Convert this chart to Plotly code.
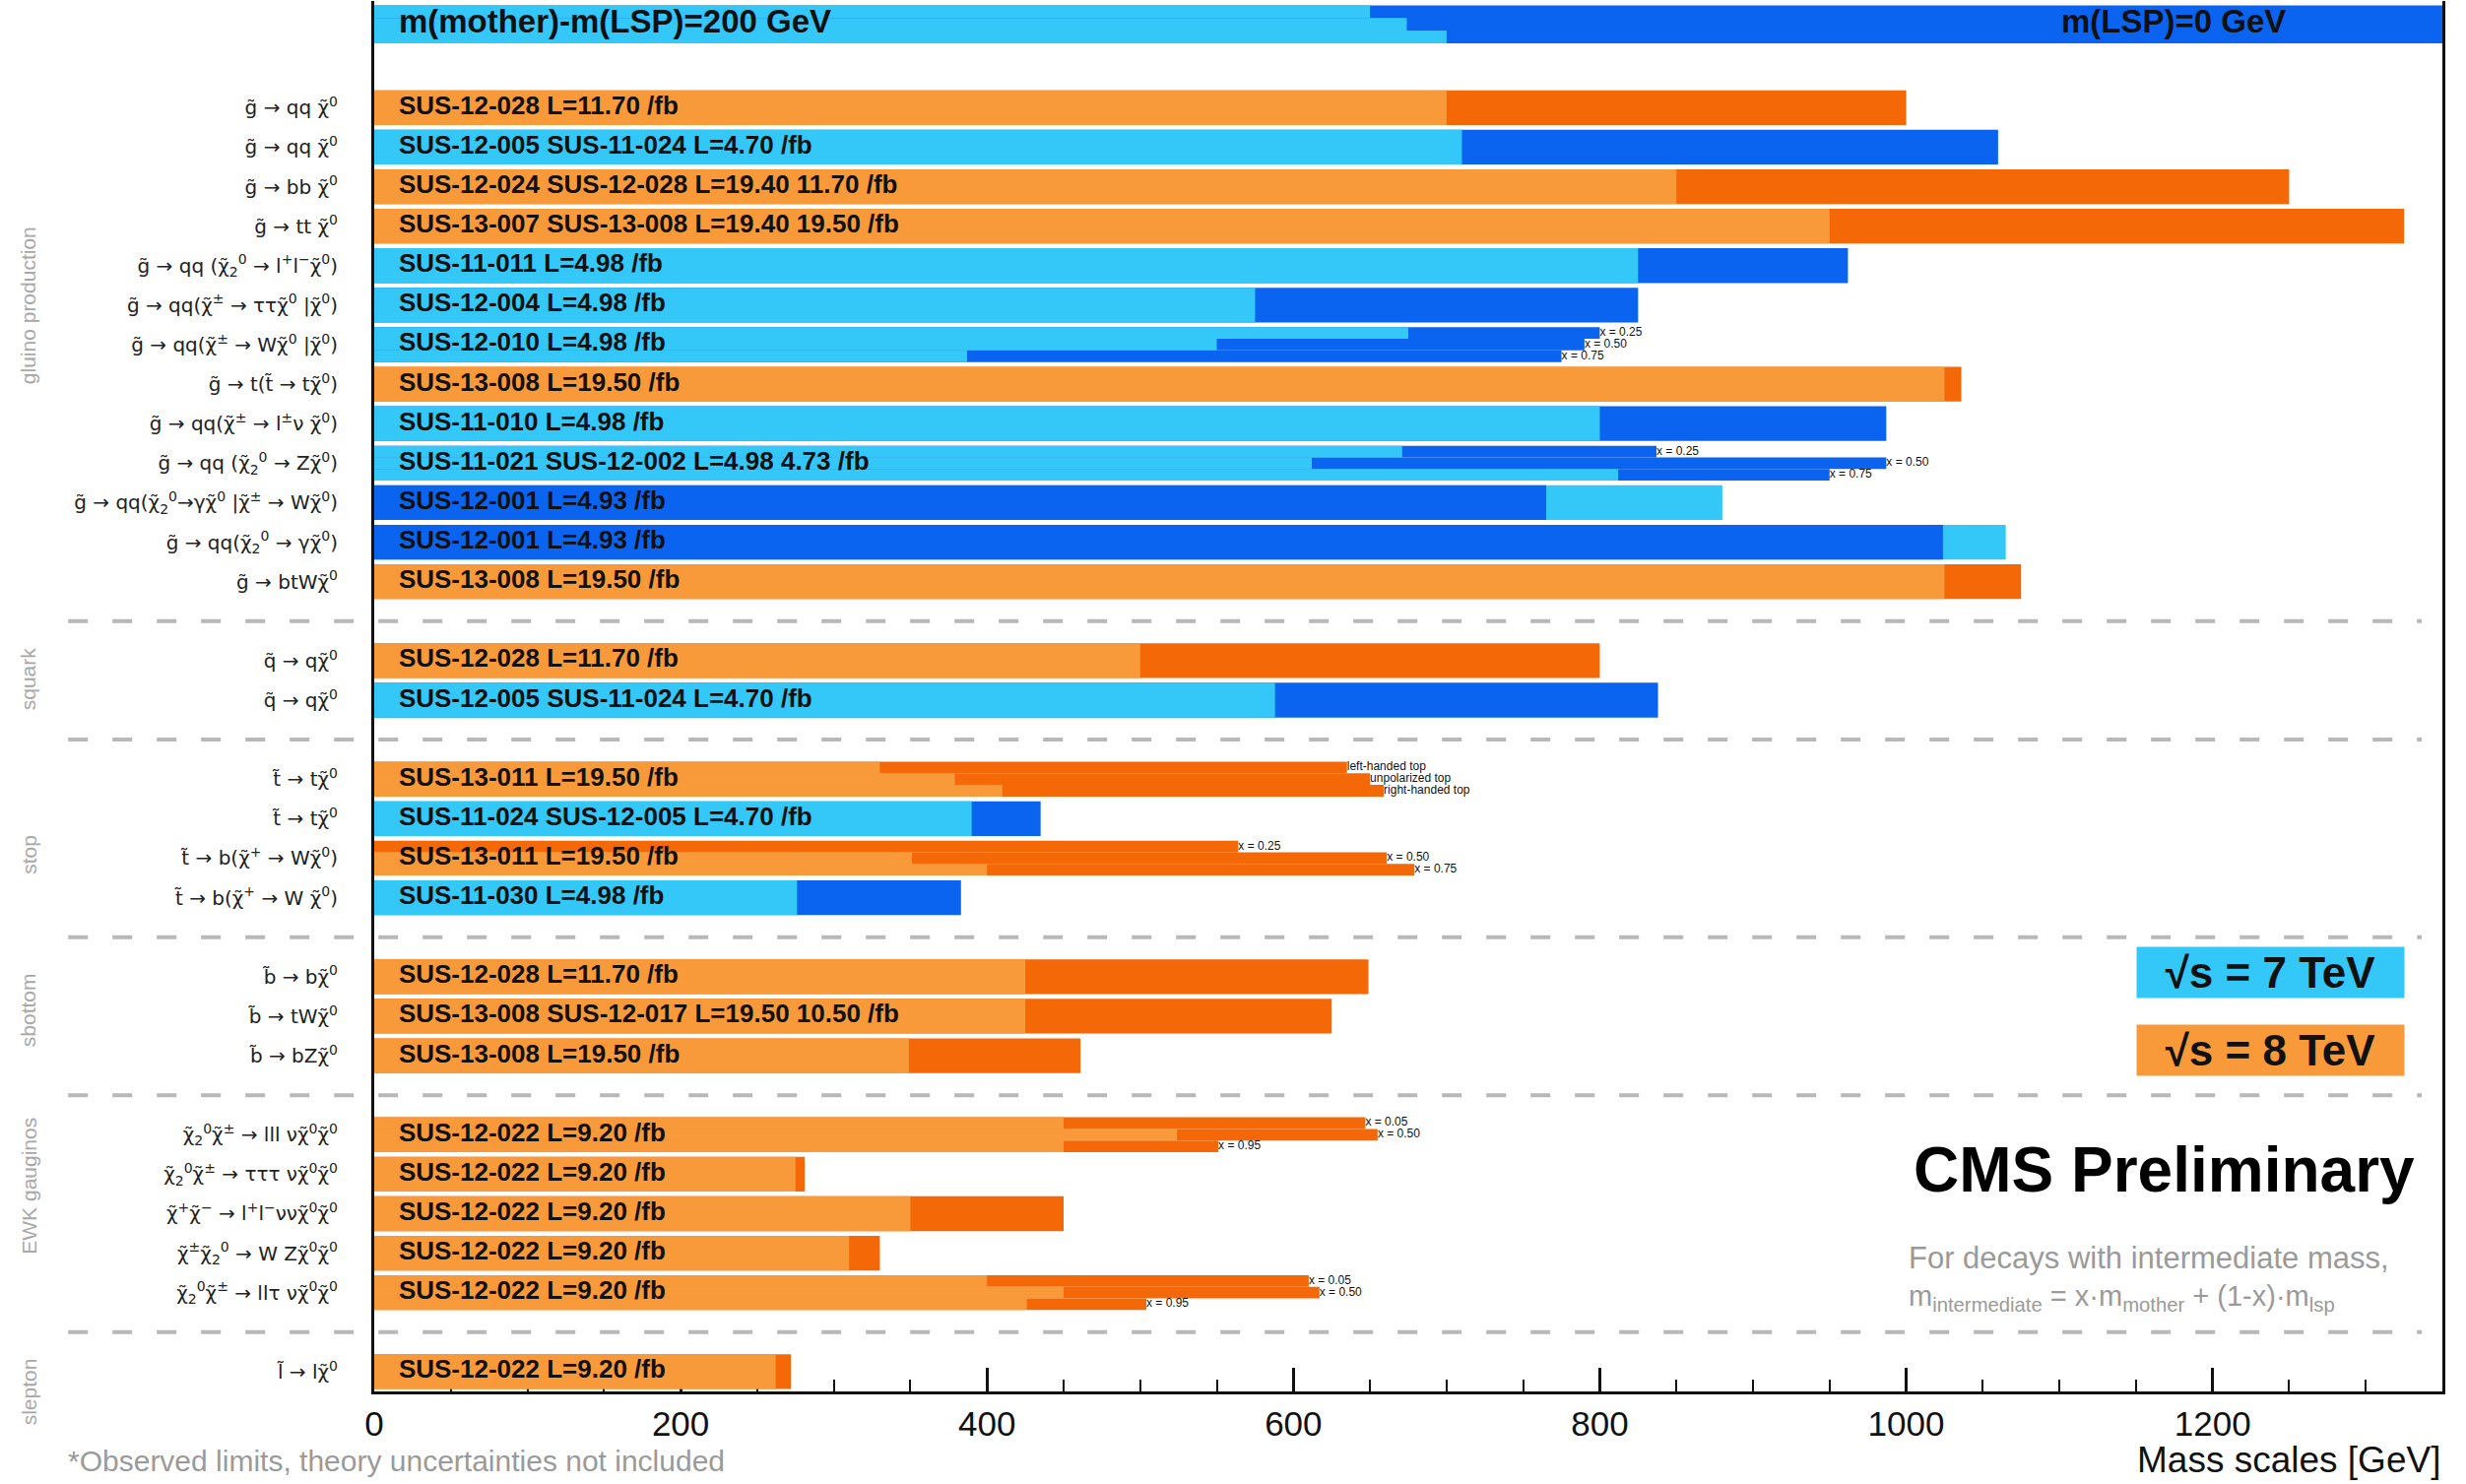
import plotly.graph_objects as go

FONT = "Liberation Sans, Arial, Helvetica, sans-serif"
LFONT = "DejaVu Sans, Liberation Sans, sans-serif"

# ---------------- data ----------------
G = "g\u0303"; CHI = "\u03c7\u0303"
SQ = "q\u0303"; ST = "t\u0303"; SB = "b\u0303"; SL = "l\u0303"
Z0 = f"{CHI}<sup>0</sup>"
ZPM = f"{CHI}<sup>±</sup>"
Z20 = f"{CHI}<sub>2</sub><sup>0</sup>"

row_pos = [0, 1, 2, 3, 4, 5, 6, 7, 8, 9, 10, 11, 12,
           14, 15,
           17, 18, 19, 20,
           22, 23, 24,
           26, 27, 28, 29, 30,
           32]

process_labels = [
    f"{G} → qq {Z0}",
    f"{G} → qq {Z0}",
    f"{G} → bb {Z0}",
    f"{G} → tt {Z0}",
    f"{G} → qq ({Z20} → l<sup>+</sup>l<sup>−</sup>{Z0})",
    f"{G} → qq({ZPM} → ττ{Z0} |{Z0})",
    f"{G} → qq({ZPM} → W{Z0} |{Z0})",
    f"{G} → t({ST} → t{Z0})",
    f"{G} → qq({ZPM} → l<sup>±</sup>ν {Z0})",
    f"{G} → qq ({Z20} → Z{Z0})",
    f"{G} → qq({Z20}→γ{Z0} |{ZPM} → W{Z0})",
    f"{G} → qq({Z20} → γ{Z0})",
    f"{G} → btW{Z0}",
    f"{SQ} → q{Z0}",
    f"{SQ} → q{Z0}",
    f"{ST} → t{Z0}",
    f"{ST} → t{Z0}",
    f"{ST} → b({CHI}<sup>+</sup> → W{Z0})",
    f"{ST} → b({CHI}<sup>+</sup> → W {Z0})",
    f"{SB} → b{Z0}",
    f"{SB} → tW{Z0}",
    f"{SB} → bZ{Z0}",
    f"{Z20}{ZPM} → lll ν{Z0}{Z0}",
    f"{Z20}{ZPM} → τττ ν{Z0}{Z0}",
    f"{CHI}<sup>+</sup>{CHI}<sup>−</sup> → l<sup>+</sup>l<sup>−</sup>νν{Z0}{Z0}",
    f"{ZPM}{Z20} → W Z{Z0}{Z0}",
    f"{Z20}{ZPM} → llτ ν{Z0}{Z0}",
    f"{SL} → l{Z0}",
]

analysis_labels = [
    "SUS-12-028 L=11.70 /fb",
    "SUS-12-005 SUS-11-024 L=4.70 /fb",
    "SUS-12-024 SUS-12-028 L=19.40 11.70 /fb",
    "SUS-13-007 SUS-13-008 L=19.40 19.50 /fb",
    "SUS-11-011 L=4.98 /fb",
    "SUS-12-004 L=4.98 /fb",
    "SUS-12-010 L=4.98 /fb",
    "SUS-13-008 L=19.50 /fb",
    "SUS-11-010 L=4.98 /fb",
    "SUS-11-021 SUS-12-002 L=4.98 4.73 /fb",
    "SUS-12-001 L=4.93 /fb",
    "SUS-12-001 L=4.93 /fb",
    "SUS-13-008 L=19.50 /fb",
    "SUS-12-028 L=11.70 /fb",
    "SUS-12-005 SUS-11-024 L=4.70 /fb",
    "SUS-13-011 L=19.50 /fb",
    "SUS-11-024 SUS-12-005 L=4.70 /fb",
    "SUS-13-011 L=19.50 /fb",
    "SUS-11-030 L=4.98 /fb",
    "SUS-12-028 L=11.70 /fb",
    "SUS-13-008 SUS-12-017 L=19.50 10.50 /fb",
    "SUS-13-008 L=19.50 /fb",
    "SUS-12-022 L=9.20 /fb",
    "SUS-12-022 L=9.20 /fb",
    "SUS-12-022 L=9.20 /fb",
    "SUS-12-022 L=9.20 /fb",
    "SUS-12-022 L=9.20 /fb",
    "SUS-12-022 L=9.20 /fb",
]

sqrt_s = [8, 7, 8, 8, 7, 7, 7, 8, 7, 7, 7, 7, 8,
          8, 7,
          8, 7, 8, 7,
          8, 8, 8,
          8, 8, 8, 8, 8,
          8]

# limits [GeV]: m(mother)-m(LSP)=200 GeV and m(LSP)=0 GeV (None = split row)
limit_dm200 = [700, 710, 850, 950, 825, 575, None, 1025, 800, None, 880, 1065, 1025,
               500, 588,
               None, 390, None, 276,
               425, 425, 349,
               None, 275, 350, 310, None,
               262]
limit_lsp0 = [1000, 1060, 1250, 1325, 962, 825, None, 1036, 987, None, 765, 1024, 1075,
              800, 838,
              None, 435, None, 383,
              649, 625, 461,
              None, 281, 450, 330, None,
              272]

# rows split into three sub-results (intermediate-mass / polarisation variants)
split_index = [6, 9, 15, 17, 22, 26]
split_dm200 = [[675, 550, 387], [671, 612, 812], [330, 379, 410],
               [0, 351, 400], [450, 524, 450], [400, 450, 426]]
split_lsp0 = [[800, 790, 775], [837, 987, 950], [635, 650, 659],
              [564, 661, 679], [647, 655, 551], [610, 617, 504]]
split_tags = [["x = 0.25", "x = 0.50", "x = 0.75"],
              ["x = 0.25", "x = 0.50", "x = 0.75"],
              ["left-handed top", "unpolarized top", "right-handed top"],
              ["x = 0.25", "x = 0.50", "x = 0.75"],
              ["x = 0.05", "x = 0.50", "x = 0.95"],
              ["x = 0.05", "x = 0.50", "x = 0.95"]]

# header (legend) bar
header_dm200 = [650, 674, 700]
header_lsp0 = 1350

group_names = ["gluino production", "squark", "stop", "sbottom", "EWK gauginos", "slepton"]
group_centers = [5.0, 14.45, 18.9, 22.85, 27.3, 32.5]
separators = [13, 16, 21, 25, 31]

# ---------------- styling ----------------
COLORS = {7: ("#33c8f8", "#0b64f0"), 8: ("#f89a3a", "#f56808")}  # (light, dark)
BAR_W = 0.88
SUB_W = BAR_W / 3
HEADER_Y = -2.11

back = dict(x=[], y=[], w=[], c=[])
front = dict(x=[], y=[], w=[], c=[])
tags = dict(x=[], y=[], t=[])


def add_pair(y, w, v_light, v_dark, energy):
    light, dark = COLORS[energy]
    pairs = sorted([(v_light, light), (v_dark, dark)], key=lambda p: -p[0])
    (v1, c1), (v2, c2) = pairs
    back["x"].append(v1); back["y"].append(y); back["w"].append(w); back["c"].append(c1)
    front["x"].append(v2); front["y"].append(y); front["w"].append(w); front["c"].append(c2)


for i, y in enumerate(row_pos):
    if limit_dm200[i] is not None:
        add_pair(y, BAR_W, limit_dm200[i], limit_lsp0[i], sqrt_s[i])

for j, i in enumerate(split_index):
    y0 = row_pos[i]
    for s, off in enumerate([-SUB_W, 0, SUB_W]):
        add_pair(y0 + off, SUB_W, split_dm200[j][s], split_lsp0[j][s], sqrt_s[i])
        tags["x"].append(max(split_dm200[j][s], split_lsp0[j][s]))
        tags["y"].append(y0 + off)
        tags["t"].append(split_tags[j][s])

# header bar
HW = 0.96
back["x"].append(header_lsp0); back["y"].append(HEADER_Y); back["w"].append(HW); back["c"].append(COLORS[7][1])
for s, off in enumerate([-HW / 3, 0, HW / 3]):
    front["x"].append(header_dm200[s]); front["y"].append(HEADER_Y + off)
    front["w"].append(HW / 3); front["c"].append(COLORS[7][0])

fig = go.Figure()
for d in (back, front):
    fig.add_trace(go.Bar(orientation="h", x=d["x"], y=d["y"], width=d["w"], base=0,
                         marker=dict(color=d["c"], line=dict(width=0)),
                         showlegend=False, hoverinfo="skip"))

# analysis labels on bars
fig.add_trace(go.Scatter(x=[16] * len(row_pos), y=row_pos, mode="text",
                         text=[f"<b>{t}</b>" for t in analysis_labels],
                         textposition="middle right",
                         textfont=dict(family=FONT, size=26, color="#111111"),
                         showlegend=False, hoverinfo="skip"))
# header texts
fig.add_trace(go.Scatter(x=[16], y=[HEADER_Y], mode="text",
                         text=["<b>m(mother)-m(LSP)=200 GeV</b>"], textposition="middle right",
                         textfont=dict(family=FONT, size=33, color="#111111"),
                         showlegend=False, hoverinfo="skip"))
fig.add_trace(go.Scatter(x=[1248], y=[HEADER_Y], mode="text",
                         text=["<b>m(LSP)=0 GeV</b>"], textposition="middle left",
                         textfont=dict(family=FONT, size=33, color="#111111"),
                         showlegend=False, hoverinfo="skip"))
# small tags
fig.add_trace(go.Scatter(x=tags["x"], y=tags["y"], mode="text", text=tags["t"],
                         textposition="middle right",
                         textfont=dict(family=FONT, size=12, color="#111111"),
                         showlegend=False, hoverinfo="skip"))

shapes = []
for s in separators:
    shapes.append(dict(type="line", xref="paper", yref="y", x0=-0.148, x1=0.99, y0=s, y1=s,
                       line=dict(color="#b8b8b8", width=4, dash="20px,25px")))

annotations = []
for name, yc in zip(group_names, group_centers):
    annotations.append(dict(xref="paper", yref="y", x=-0.167, y=yc, text=name, textangle=-90,
                            showarrow=False, xanchor="center", yanchor="middle",
                            font=dict(family=FONT, size=21, color="#a8a8a8")))

annotations += [
    dict(xref="x", yref="y", x=1238, y=21.9, text="<b>√s = 7 TeV</b>", showarrow=False,
         bgcolor=COLORS[7][0], width=271, height=51, borderpad=0,
         font=dict(family=FONT, size=44, color="#111111")),
    dict(xref="x", yref="y", x=1238, y=23.86, text="<b>√s = 8 TeV</b>", showarrow=False,
         bgcolor=COLORS[8][0], width=271, height=51, borderpad=0,
         font=dict(family=FONT, size=44, color="#111111")),
    dict(xref="x", yref="y", x=1333, y=26.9, text="<b>CMS Preliminary</b>", showarrow=False,
         xanchor="right", font=dict(family=FONT, size=64, color="#000000")),
    dict(xref="x", yref="y", x=1000, y=29.13, text="For decays with intermediate mass,",
         showarrow=False, xanchor="left", font=dict(family=FONT, size=31, color="#9a9a9a")),
    dict(xref="x", yref="y", x=1000, y=30.13,
         text="m<sub>intermediate</sub> = x·m<sub>mother</sub> + (1-x)·m<sub>lsp</sub>",
         showarrow=False, xanchor="left", font=dict(family=FONT, size=29, color="#9a9a9a")),
    dict(xref="paper", yref="paper", x=-0.149, y=-0.05,
         text="*Observed limits, theory uncertainties not included",
         showarrow=False, xanchor="left", yanchor="middle",
         font=dict(family=FONT, size=30, color="#9a9a9a")),
    dict(xref="paper", yref="paper", x=1.0, y=-0.049, text="Mass scales [GeV]",
         showarrow=False, xanchor="right", yanchor="middle",
         font=dict(family=FONT, size=37, color="#111111")),
]

fig.update_layout(
    width=2504, height=1507,
    margin=dict(l=380, r=24, t=1, b=94),
    paper_bgcolor="white", plot_bgcolor="white",
    barmode="overlay",
    showlegend=False,
    shapes=shapes, annotations=annotations,
    xaxis=dict(range=[0, 1350], showgrid=False, zeroline=False,
               showline=True, linecolor="#111111", linewidth=3,
               ticks="inside", ticklen=24, tickwidth=3, tickcolor="#111111",
               tick0=0, dtick=200,
               minor=dict(ticks="inside", ticklen=12, tickwidth=2, dtick=50, tickcolor="#111111"),
               tickfont=dict(family=FONT, size=35, color="#111111"),
               layer="below traces"),
    yaxis=dict(range=[32.5, -2.7], showgrid=False, zeroline=False,
               showline=True, linecolor="#111111", linewidth=3, mirror=True,
               tickmode="array", tickvals=row_pos, ticktext=process_labels,
               ticks="", ticklabelstandoff=30, automargin=False,
               tickfont=dict(family=LFONT, size=20, color="#222222")),
)

fig.write_html("out.html")
